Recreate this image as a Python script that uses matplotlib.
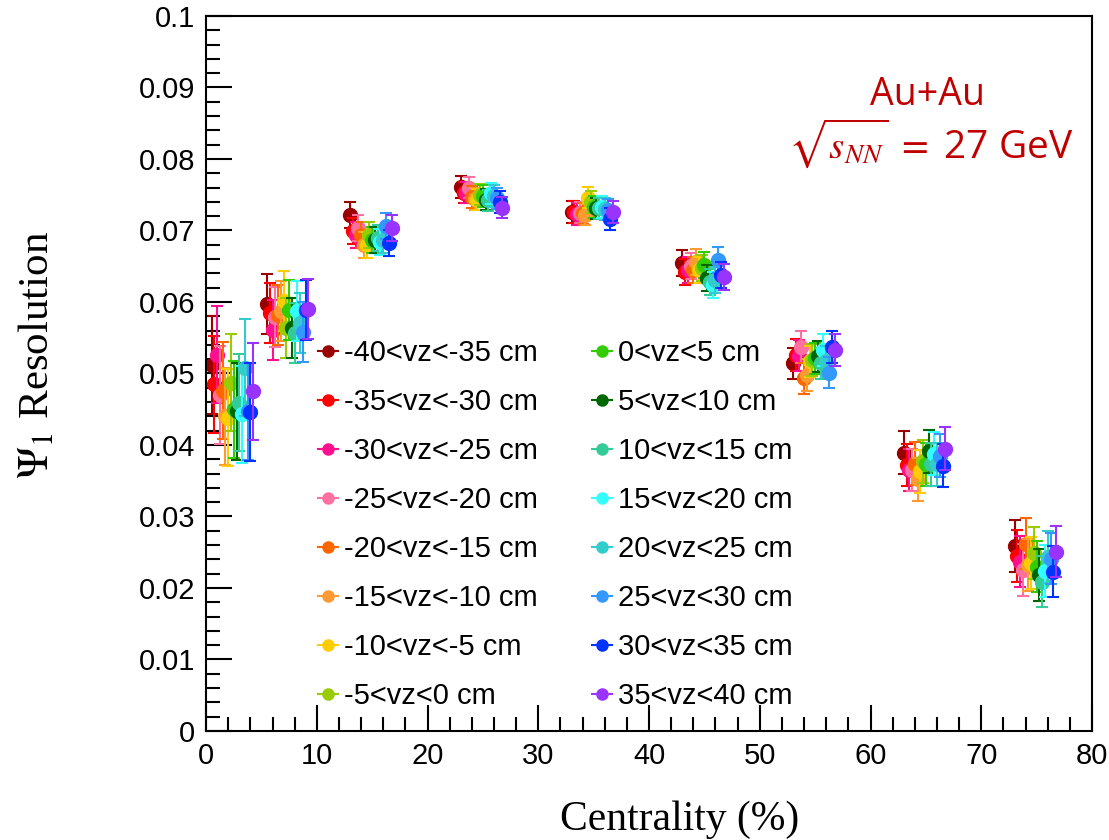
import matplotlib.pyplot as plt
from matplotlib.lines import Line2D
from matplotlib.ticker import MultipleLocator

plt.rcParams['mathtext.fontset'] = 'stix'

# vz bins (legend labels) and their colours
vz_labels = ['-40<vz<-35 cm', '-35<vz<-30 cm', '-30<vz<-25 cm', '-25<vz<-20 cm',
             '-20<vz<-15 cm', '-15<vz<-10 cm', '-10<vz<-5 cm', '-5<vz<0 cm',
             '0<vz<5 cm', '5<vz<10 cm', '10<vz<15 cm', '15<vz<20 cm',
             '20<vz<25 cm', '25<vz<30 cm', '30<vz<35 cm', '35<vz<40 cm']
vz_colors = ['#990000', '#ff0000', '#ff0f8f', '#ff6f9f', '#ff6600', '#ff9933',
             '#ffcc00', '#99cc00', '#33cc00', '#006600', '#33cc99', '#33ffff',
             '#33cccc', '#3399ff', '#0033ff', '#9933ff']

# centrality bin centres (%)
cent_centers = [2.5, 7.5, 15, 25, 35, 45, 55, 65, 75]

# resolution per centrality bin, one value per vz bin (in vz_labels order)
res_0_5 = [0.0512, 0.0485, 0.0526, 0.0470, 0.0476, 0.0440, 0.0438, 0.0487,
           0.0450, 0.0447, 0.0459, 0.0443, 0.0508, 0.0447, 0.0446, 0.0475]
res_5_10 = [0.0597, 0.0584, 0.0561, 0.0579, 0.0582, 0.0588, 0.0602, 0.0564,
            0.0589, 0.0563, 0.0556, 0.0588, 0.0570, 0.0558, 0.0589, 0.0590]
res_10_20 = [0.0722, 0.0699, 0.0694, 0.0703, 0.0694, 0.0680, 0.0680, 0.0694,
             0.0687, 0.0687, 0.0689, 0.0684, 0.0687, 0.0706, 0.0682, 0.0703]
res_20_30 = [0.0761, 0.0753, 0.0753, 0.0760, 0.0747, 0.0744, 0.0743, 0.0750,
             0.0748, 0.0743, 0.0742, 0.0752, 0.0748, 0.0745, 0.0740, 0.0732]
res_30_40 = [0.0726, 0.0726, 0.0723, 0.0725, 0.0724, 0.0722, 0.0746, 0.0740,
             0.0733, 0.0731, 0.0731, 0.0733, 0.0730, 0.0729, 0.0716, 0.0726]
res_40_50 = [0.0655, 0.0642, 0.0645, 0.0650, 0.0645, 0.0656, 0.0645, 0.0648,
             0.0652, 0.0633, 0.0628, 0.0624, 0.0631, 0.0659, 0.0638, 0.0635]
res_50_60 = [0.0514, 0.0526, 0.0525, 0.0537, 0.0493, 0.0498, 0.0517, 0.0519,
             0.0521, 0.0524, 0.0514, 0.0533, 0.0517, 0.0501, 0.0537, 0.0533]
res_60_70 = [0.0389, 0.0372, 0.0365, 0.0365, 0.0374, 0.0352, 0.0363, 0.0377,
             0.0373, 0.0391, 0.0373, 0.0388, 0.0373, 0.0385, 0.0371, 0.0395]
res_70_80 = [0.0259, 0.0245, 0.0237, 0.0225, 0.0262, 0.0232, 0.0235, 0.0249,
             0.0230, 0.0218, 0.0209, 0.0224, 0.0243, 0.0241, 0.0223, 0.0251]
res_all = [res_0_5, res_5_10, res_10_20, res_20_30, res_30_40,
           res_40_50, res_50_60, res_60_70, res_70_80]

# statistical error per centrality bin
err_cent = [0.0068, 0.0042, 0.0018, 0.0015, 0.0015, 0.0018, 0.0022, 0.0030, 0.0036]

fig = plt.figure(figsize=(11.09, 8.40), dpi=100)
ax = fig.add_axes([0.1858, 0.1298, 0.7989, 0.8512])

for i, (lab, col) in enumerate(zip(vz_labels, vz_colors)):
    xs = [c - 2 + i * 0.25 for c in cent_centers]
    ys = [r[i] for r in res_all]
    ax.errorbar(xs, ys, yerr=err_cent, fmt='o', color=col, ms=10,
                elinewidth=1.5, capsize=4, capthick=1.5, zorder=2 + i)

ax.set_xlim(0, 80)
ax.set_ylim(0, 0.1)
ax.xaxis.set_major_locator(MultipleLocator(10))
ax.xaxis.set_minor_locator(MultipleLocator(2))
ax.yaxis.set_major_locator(MultipleLocator(0.01))
ax.yaxis.set_minor_locator(MultipleLocator(0.002))
ax.set_yticks([i * 0.01 for i in range(11)])
ax.set_yticklabels(['0'] + ['0.0%d' % i for i in range(1, 10)] + ['0.1'])
ax.tick_params(which='both', direction='in', top=False, right=False,
               width=1.5, labelsize=21, pad=8)
ax.tick_params(which='major', length=19)
ax.tick_params(which='minor', length=10)
for lbl in ax.get_xticklabels() + ax.get_yticklabels():
    lbl.set_fontfamily('Liberation Sans')
for sp in ax.spines.values():
    sp.set_linewidth(1.5)

fig.text(0.613, 0.024, 'Centrality (%)', family='Liberation Serif',
         fontsize=30, ha='center', va='center')
fig.text(0.034, 0.577, r'$\Psi_1$ Resolution', family='Liberation Serif',
         fontsize=31, ha='center', va='center', rotation=90)

ax.text(0.814, 0.890, 'Au+Au', transform=ax.transAxes, color='#c00000',
        family='Open Sans', fontsize=27, ha='center', va='center')
ax.text(0.818, 0.822, r'$\sqrt{s_{NN}}\ =\ $27 GeV', transform=ax.transAxes,
        color='#c00000', family='Open Sans', fontsize=28, ha='center', va='center')

handles = [Line2D([0], [0], color=c, marker='o', ms=8, lw=1.5) for c in vz_colors]
ax.legend(handles, vz_labels, ncol=2, loc='upper left',
          bbox_to_anchor=(0.126, 0.548), frameon=False, borderpad=0,
          borderaxespad=0, handlelength=0.7, handletextpad=0.2,
          labelspacing=0.72, columnspacing=1.85,
          prop={'family': 'Liberation Sans', 'size': 21})

fig.savefig('out.png', dpi=100)
